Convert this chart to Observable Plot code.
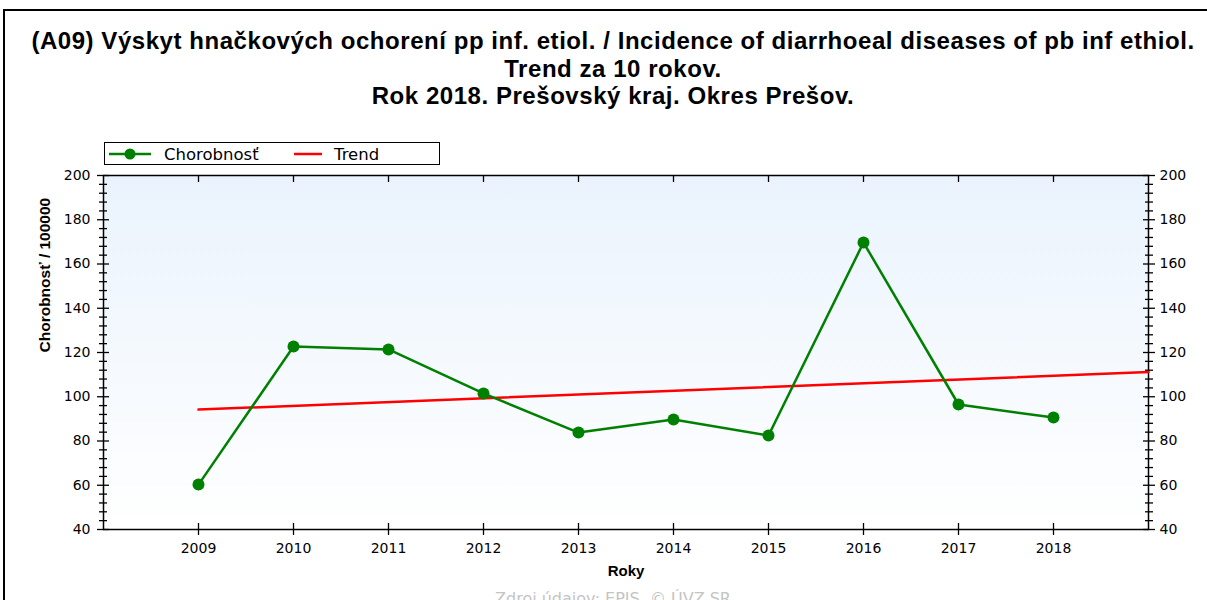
<!DOCTYPE html>
<html>
<head>
<meta charset="utf-8">
<script src="https://cdn.jsdelivr.net/npm/d3@7"></script>
<script src="https://cdn.jsdelivr.net/npm/@observablehq/plot@0.6"></script>
<style>
  html, body { margin: 0; padding: 0; width: 1207px; height: 600px; overflow: hidden; background: #fff; }
  #border { position: absolute; left: 3px; top: 9px; width: 1300px; height: 700px; border-left: 2px solid #000; border-top: 2px solid #000; box-sizing: border-box; }
  #title { position: absolute; left: 10px; width: 1206px; top: 27px; text-align: center;
           font: bold 24px "Liberation Sans", Arial, sans-serif; letter-spacing: 0.55px; line-height: 27.5px; color: #000; white-space: nowrap; }
  #legend { position: absolute; left: 104px; top: 142px; width: 336px; height: 23px; border: 1px solid #000;
            box-sizing: border-box; background: #fff; }
  #legend svg { position: absolute; left: 0; top: 0; }
  #chart { position: absolute; left: 0; top: 120px; }
  #caption { position: absolute; left: 0; width: 1226px; top: 589px; text-align: center;
             font: 16px "DejaVu Sans", sans-serif; color: #c4c4c4; }
</style>
</head>
<body>
<div id="border"></div>
<div id="title">(A09) Výskyt hnačkových ochorení pp inf. etiol. / Incidence of diarrhoeal diseases of pb inf ethiol.<br>Trend za 10 rokov.<br>Rok 2018. Prešovský kraj. Okres Prešov.</div>
<div id="chart"></div>
<div id="legend">
  <svg width="336" height="23" font-family="DejaVu Sans" font-size="16.5">
    <line x1="4" x2="46" y1="11" y2="11" stroke="#008000" stroke-width="2.5"></line>
    <circle cx="25" cy="11" r="5.5" fill="#008000"></circle>
    <text x="59" y="17" fill="#000">Chorobnosť</text>
    <line x1="189" x2="217" y1="11" y2="11" stroke="#ff0000" stroke-width="2.5"></line>
    <text x="229" y="17" fill="#000">Trend</text>
  </svg>
</div>
<div id="caption">Zdroj údajov: EPIS, © ÚVZ SR</div>
<script>
const years = [2009, 2010, 2011, 2012, 2013, 2014, 2015, 2016, 2017, 2018];
const incidence = [60.3, 122.7, 121.4, 101.5, 83.8, 89.7, 82.5, 169.7, 96.5, 90.6];
const trendYears = [2009, 2019];
const trendValues = [94.2, 111.2];
const yMajorTicks = [40, 60, 80, 100, 120, 140, 160, 180, 200];
const yMinorTicks = d3.range(40, 201, 4).filter(v => v % 20 !== 0);
const xTickLabels = years.map(String);

const data = years.map((year, i) => ({year, value: incidence[i]}));
const trend = trendYears.map((year, i) => ({year, value: trendValues[i]}));

const tickFont = 14;
const chart = Plot.plot({
  width: 1207,
  height: 480,
  marginLeft: 103,
  marginRight: 59,
  marginTop: 55,
  marginBottom: 71,
  style: {fontFamily: "DejaVu Sans, sans-serif", fontSize: "14px", color: "#000", background: "transparent"},
  x: {domain: [2008, 2019]},
  y: {domain: [40, 200]},
  marks: [
    Plot.frame({fill: "url(#bgGrad)"}),
    // left axis
    Plot.axisY({anchor: "left", ticks: yMajorTicks, tickSize: 12, dx: 6, text: null, strokeWidth: 1.3, label: null}),
    Plot.axisY({anchor: "left", ticks: yMinorTicks, tickSize: 8, dx: 4, text: null, strokeWidth: 1.3, label: null}),
    Plot.axisY({anchor: "left", ticks: yMajorTicks, tickSize: 0, tickPadding: 13, fontSize: tickFont, label: null}),
    // right axis
    Plot.axisY({anchor: "right", ticks: yMajorTicks, tickSize: 12, dx: -6, text: null, strokeWidth: 1.3, label: null}),
    Plot.axisY({anchor: "right", ticks: yMinorTicks, tickSize: 8, dx: -4, text: null, strokeWidth: 1.3, label: null}),
    Plot.axisY({anchor: "right", ticks: yMajorTicks, tickSize: 0, tickPadding: 11, fontSize: tickFont, label: null}),
    // bottom axis
    Plot.axisX({anchor: "bottom", ticks: years, tickSize: 12, dy: -6, text: null, strokeWidth: 1.3, label: null}),
    Plot.axisX({anchor: "bottom", ticks: years, tickSize: 0, tickPadding: 14, fontSize: tickFont,
                tickFormat: (d) => xTickLabels[years.indexOf(d)], label: null}),
    // top axis
    Plot.axisX({anchor: "top", ticks: years, tickSize: 6, dy: 6, text: null, strokeWidth: 1.3, label: null}),
    Plot.frame({stroke: "#000", strokeWidth: 1.5}),
    Plot.line(trend, {x: "year", y: "value", stroke: "#ff0000", strokeWidth: 2.5}),
    Plot.line(data, {x: "year", y: "value", stroke: "#008000", strokeWidth: 2.5}),
    Plot.dot(data, {x: "year", y: "value", r: 6, fill: "#008000"}),
    Plot.text(["Roky"], {frameAnchor: "bottom", dy: 46, fontWeight: "bold", fontSize: 15, fontFamily: "Liberation Sans, Arial, sans-serif"}),
    Plot.text(["Chorobnosť / 100000"], {frameAnchor: "left", dx: -58, rotate: -90, fontWeight: "bold", fontSize: 15.5, fontFamily: "Liberation Sans, Arial, sans-serif"})
  ]
});

const ns = "http://www.w3.org/2000/svg";
const defs = document.createElementNS(ns, "defs");
const grad = document.createElementNS(ns, "linearGradient");
grad.setAttribute("id", "bgGrad");
grad.setAttribute("x1", "0"); grad.setAttribute("y1", "0");
grad.setAttribute("x2", "0"); grad.setAttribute("y2", "1");
[["0%", "#eaf3fd"], ["100%", "#ffffff"]].forEach(([o, c]) => {
  const s = document.createElementNS(ns, "stop");
  s.setAttribute("offset", o); s.setAttribute("stop-color", c);
  grad.appendChild(s);
});
defs.appendChild(grad);
chart.insertBefore(defs, chart.firstChild);
document.getElementById("chart").appendChild(chart);
</script>
</body>
</html>
